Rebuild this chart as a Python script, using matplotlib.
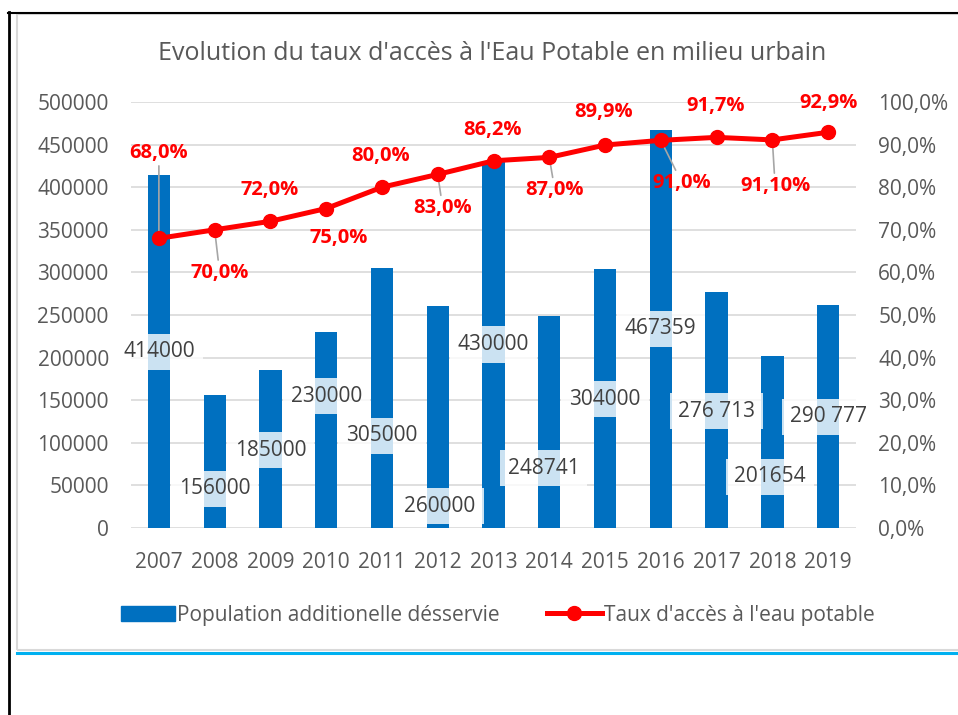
import matplotlib.pyplot as plt
from matplotlib.lines import Line2D
from matplotlib.patches import Patch, Rectangle
from matplotlib.ticker import FuncFormatter, MultipleLocator

plt.rcParams['font.family'] = ['Open Sans', 'DejaVu Sans']

# data
years = ['2007', '2008', '2009', '2010', '2011', '2012', '2013',
         '2014', '2015', '2016', '2017', '2018', '2019']
population = [414000, 156000, 185000, 230000, 305000, 260000, 430000,
              248741, 304000, 467359, 276713, 201654, 262000]
pop_labels = ['414000', '156000', '185000', '230000', '305000', '260000', '430000',
              '248741', '304000', '467359', '276 713', '201654', '290 777']
taux = [68.0, 70.0, 72.0, 75.0, 80.0, 83.0, 86.2, 87.0, 89.9, 91.0, 91.7, 91.1, 92.9]
taux_labels = ['68,0%', '70,0%', '72,0%', '75,0%', '80,0%', '83,0%', '86,2%',
               '87,0%', '89,9%', '91,0%', '91,7%', '91,10%', '92,9%']

# layout of the (hand placed) data labels
pop_lab_x = [0, 1, 2, 3, 4, 5.04, 6, 6.9, 8, 9, 10, 10.96, 12]
pop_lab_y = [206600, 45800, 91500, 154900, 108000, 25800, 215400,
             70400, 151400, 233600, 137300, 59900, 130300]
taux_lab_x = [0, 1.09, 1.99, 3.23, 3.98, 5.09, 5.99, 7.1, 7.98, 9.38, 9.99, 11.05, 12.0]
taux_lab_y = [88.0, 59.9, 79.3, 68.1, 87.3, 75.1, 93.4, 79.3, 97.7, 81.0, 99.1, 80.3, 99.8]
leaders = [0, 1, 5, 7, 9, 11]

grey = '#595959'
blue = '#0070C0'
red = '#FF0000'

fig = plt.figure(figsize=(9.58, 7.15), dpi=100)

# frame around the chart
fig.add_artist(Rectangle((17 / 958, 1 - 650 / 715), 1.0, (650 - 14) / 715,
                         transform=fig.transFigure, fill=False,
                         edgecolor='#D9D9D9', lw=1.5))
fig.add_artist(Line2D([17 / 958, 1], [1 - 653 / 715] * 2, transform=fig.transFigure,
                      color='#00B0F0', lw=2.2))
fig.add_artist(Line2D([8 / 958, 1], [1 - 13 / 715] * 2, transform=fig.transFigure,
                      color='black', lw=1.5))
fig.add_artist(Line2D([9 / 958] * 2, [1 - 12 / 715, 0], transform=fig.transFigure,
                      color='black', lw=2))

ax = fig.add_axes([131 / 958, 1 - 528 / 715, 725 / 958, 426 / 715])
x = list(range(len(years)))
ax.bar(x, population, width=0.4, color=blue, zorder=2)
ax.set_xlim(-0.5, 12.5)
ax.set_ylim(0, 500000)
ax.yaxis.set_major_locator(MultipleLocator(50000))
ax.grid(axis='y', color='#D9D9D9', lw=1.2, zorder=0)
ax.set_axisbelow(True)
for s in ax.spines.values():
    s.set_visible(False)
ax.set_xticks(x)
ax.set_xticklabels(years)
ax.tick_params(axis='both', length=0, labelsize=15, labelcolor=grey)
ax.tick_params(axis='y', pad=16)
ax.tick_params(axis='x', pad=17)

for i in range(len(years)):
    ax.text(pop_lab_x[i], pop_lab_y[i], pop_labels[i], ha='center', va='center',
            fontsize=15, color='#404040', zorder=3,
            bbox=dict(boxstyle='square,pad=0.38', fc='white', ec='none', alpha=0.8))

ax2 = ax.twinx()
ax2.set_ylim(0, 100)
ax2.yaxis.set_major_locator(MultipleLocator(10))
ax2.yaxis.set_major_formatter(FuncFormatter(lambda v, p: f'{v:.1f}%'.replace('.', ',')))
ax2.tick_params(axis='y', length=0, labelsize=15, labelcolor=grey, pad=16)
for s in ax2.spines.values():
    s.set_visible(False)
ax2.plot(x, taux, color=red, lw=3.6, marker='o', markersize=10, zorder=3)

for i in range(len(years)):
    if i in leaders:
        ax2.annotate(taux_labels[i], xy=(i, taux[i]), xytext=(taux_lab_x[i], taux_lab_y[i]),
                     ha='center', va='center', fontsize=14.5, fontweight='bold', color=red,
                     arrowprops=dict(arrowstyle='-', color='#A6A6A6', lw=1.2,
                                     shrinkA=0, shrinkB=0), zorder=2)
    else:
        ax2.text(taux_lab_x[i], taux_lab_y[i], taux_labels[i], ha='center', va='center',
                 fontsize=14.5, fontweight='bold', color=red)

fig.text(492.5 / 958, 1 - 53 / 715, "Evolution du taux d'accès à l'Eau Potable en milieu urbain",
         ha='center', va='center', fontsize=18, color=grey)

handles = [Patch(color=blue, label='Population additionelle désservie'),
           Line2D([], [], color=red, lw=3.6, marker='o', markersize=10,
                  label="Taux d'accès à l'eau potable")]
fig.legend(handles=handles, loc='center', bbox_to_anchor=(497.5 / 958, 1 - 615 / 715),
           ncol=2, frameon=False, fontsize=15, labelcolor=grey,
           handlelength=2.6, handletextpad=0.1, columnspacing=2.3)

fig.savefig('out.png', dpi=100)
